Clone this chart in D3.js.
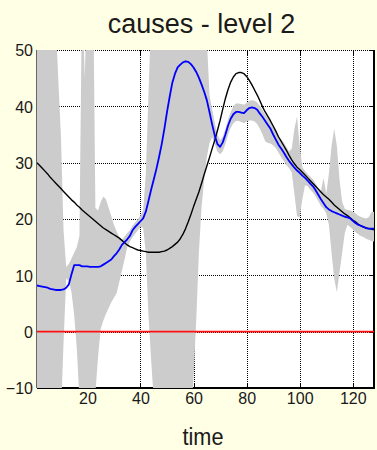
<!DOCTYPE html>
<html>
<head>
<meta charset="utf-8">
<script src="https://cdn.jsdelivr.net/npm/d3@7"></script>
<style>
  html, body { margin: 0; padding: 0; background: #FFFFE5; }
  svg { display: block; }
  text { font-family: "Liberation Sans", Arial, Helvetica, sans-serif; fill: #1a1a1a; }
</style>
</head>
<body>
<svg id="chart" width="377" height="450"></svg>
<script>
// Time index of the simulation (samples 1..128)
const timeSteps = d3.range(1, 129);

// True cause (black curve)
const causeTrue = [
  30.0, 29.5, 29.0, 28.5, 28.0, 27.4, 26.9, 26.4, 25.9, 25.4,
  24.9, 24.4, 23.9, 23.4, 23.0, 22.5, 22.1, 21.6, 21.2, 20.8,
  20.4, 20.0, 19.6, 19.2, 18.8, 18.4, 18.1, 17.8, 17.5, 17.2,
  16.9, 16.6, 16.2, 15.8, 15.4, 15.1, 14.9, 14.7, 14.5, 14.4,
  14.3, 14.2, 14.1, 14.1, 14.1, 14.1, 14.1, 14.2, 14.3, 14.5,
  14.8, 15.1, 15.5, 15.9, 16.5, 17.3, 18.3, 19.5, 20.8, 22.2,
  23.5, 24.8, 26.3, 27.9, 29.4, 30.9, 32.5, 34.0, 35.7, 37.5,
  39.5, 41.4, 43.0, 44.3, 45.2, 45.8, 46.0, 46.0, 45.8, 45.3,
  44.6, 43.8, 42.9, 42.0, 41.0, 39.9, 39.0, 38.2, 37.4, 36.5,
  35.6, 34.6, 33.8, 33.0, 32.2, 31.3, 30.5, 29.8, 29.2, 28.8,
  28.3, 27.8, 27.3, 26.8, 26.3, 25.8, 25.3, 24.8, 24.3, 23.9,
  23.5, 23.0, 22.5, 22.1, 21.7, 21.3, 20.9, 20.6, 20.2, 19.8,
  19.5, 19.1, 18.8, 18.6, 18.4, 18.3, 18.2, 18.1
];

// Estimated cause (blue curve)
const causeEstimate = [
  8.2, 8.1, 8.0, 7.9, 7.8, 7.6, 7.5, 7.4, 7.4, 7.4,
  7.5, 7.8, 8.4, 10.2, 11.8, 11.8, 11.8, 11.6, 11.6, 11.6,
  11.5, 11.5, 11.5, 11.5, 11.6, 11.9, 12.2, 12.5, 12.8, 13.4,
  13.9, 14.6, 15.4, 15.9, 16.4, 17.0, 18.0, 18.6, 19.1, 19.6,
  20.1, 21.3, 23.2, 25.2, 27.0, 28.9, 31.0, 33.3, 36.0, 39.0,
  41.7, 44.2, 45.8, 46.9, 47.4, 47.8, 48.0, 47.9, 47.5, 46.9,
  46.1, 45.1, 43.9, 42.6, 41.1, 39.0, 36.8, 34.8, 33.3, 32.8,
  33.6, 35.0, 36.6, 37.8, 38.6, 39.0, 39.0, 38.9, 38.8, 39.3,
  39.7, 39.8, 39.7, 39.4, 38.7, 38.1, 37.4, 36.7, 36.0, 35.0,
  34.1, 33.2, 32.5, 31.8, 31.0, 30.3, 29.7, 29.1, 28.6, 28.2,
  27.7, 27.3, 26.8, 26.3, 25.8, 25.1, 24.3, 23.5, 22.8, 22.1,
  21.7, 21.4, 21.2, 21.0, 20.8, 20.6, 20.4, 20.3, 20.1, 19.7,
  19.3, 19.0, 18.8, 18.6, 18.4, 18.3, 18.3, 18.3
];

// Confidence interval of the estimate (grey band)
const ciUpper = [
  60, 60, 60, 60, 60, 60, 60, 56, 45, 35,
  18, 11.5, 12, 13, 14, 15, 17, 62, 45, 62,
  65, 70, 22, 21.5, 23, 24, 23.5, 22, 20.5, 19,
  17.8, 16.8, 16.3, 16.9, 17.5, 18, 18.8, 19.4, 20, 20.6,
  21.5, 28, 42, 56, 65, 65, 65, 65, 65, 65,
  65, 65, 65, 65, 65, 65, 65, 65, 65, 65,
  65, 65, 65, 65, 52, 42, 39.5, 37, 35, 34,
  34.6, 36, 37.6, 39, 40, 40.5, 40.5, 40.4, 40.3, 40.6,
  41, 41.1, 41, 40.7, 40, 39.3, 38.6, 37.9, 37.2, 36.4,
  35.6, 34.8, 34.2, 33.6, 32.8, 32, 32.5, 36, 38.2, 33,
  29.2, 28.5, 28, 27.5, 27, 26.3, 25.5, 25, 27.3, 24.5,
  28, 33, 36, 33, 27, 23, 21.8, 21.6, 21.5, 21.3,
  21, 20.6, 20.4, 20.2, 20.1, 20.3, 21.2, 21.3
];
const ciLower = [
  -22, -22, -22, -22, -22, -22, -22, -22, -22, -15,
  -2, 9.5, 9, 7, 3, -3, -12, -25, -25, -25,
  -25, -25, -11, -4.5, 0.5, 2, 3.2, 4.2, 5.2, 6,
  6.8, 8.8, 10.8, 12.8, 15, 16, 16.8, 17.4, 18, 18.6,
  18.5, 14, 3, -5, -12, -25, -25, -25, -25, -25,
  -25, -25, -25, -25, -25, -25, -25, -25, -16, -8,
  2, 14, 22, 27, 31, 33.5, 34.5, 33.3, 32, 31.5,
  32, 33.3, 35, 36.2, 37, 37.4, 37.4, 37.2, 37, 37.3,
  37.5, 37.5, 37.3, 36.8, 36, 35, 33.8, 33.5, 33.4, 33.1,
  32.6, 31.8, 31, 30.3, 29.6, 29, 28.3, 24.5, 20.5, 20.3,
  23.5, 26, 25.8, 25.2, 24.7, 24, 23.2, 22.3, 21.8, 21,
  19, 14, 9.5, 7, 10.5, 14, 17.5, 19, 18.6, 18.2,
  17.7, 17.3, 17, 16.8, 16.5, 16.3, 16.1, 16
];

// Axis ticks and reference level
const xTicks = [20, 40, 60, 80, 100, 120];
const yTicks = [-10, 0, 10, 20, 30, 40, 50];
const zeroLevel = [0];

const titleText = "causes - level 2";
const xLabelText = "time";

// ---- layout ----
const W = 377, H = 450;
const plotLeft = 37, plotRight = 374, plotTop = 50, plotBottom = 388;

const svg = d3.select("#chart");

const x = d3.scaleLinear().domain([1, 128]).range([plotLeft, plotRight]);
const y = d3.scaleLinear().domain([-10, 50]).range([plotBottom, plotTop]);

svg.append("rect").attr("width", W).attr("height", H).attr("fill", "#FFFFE5");

svg.append("defs").append("clipPath").attr("id", "plotClip")
  .append("rect").attr("x", plotLeft).attr("y", plotTop)
  .attr("width", plotRight - plotLeft).attr("height", plotBottom - plotTop);

// plot area
svg.append("rect")
  .attr("x", plotLeft).attr("y", plotTop)
  .attr("width", plotRight - plotLeft).attr("height", plotBottom - plotTop)
  .attr("fill", "#ffffff");

// dotted grid
const gridX = svg.append("g")
  .attr("transform", `translate(0,${plotBottom})`)
  .call(d3.axisBottom(x).tickValues(xTicks).tickSize(-(plotBottom - plotTop)).tickFormat(""));
gridX.select(".domain").remove();
gridX.selectAll("line")
  .attr("stroke", "#000").attr("stroke-width", 1)
  .attr("stroke-dasharray", "1,1").attr("shape-rendering", "crispEdges");

const gridY = svg.append("g")
  .attr("transform", `translate(${plotLeft},0)`)
  .call(d3.axisLeft(y).tickValues(yTicks).tickSize(-(plotRight - plotLeft)).tickFormat(""));
gridY.select(".domain").remove();
gridY.selectAll("line")
  .attr("stroke", "#000").attr("stroke-width", 1)
  .attr("stroke-dasharray", "1,1").attr("shape-rendering", "crispEdges");

// frame: solid bottom and right edges
svg.append("line")
  .attr("x1", plotLeft).attr("x2", plotRight + 1)
  .attr("y1", plotBottom).attr("y2", plotBottom)
  .attr("stroke", "#000").attr("stroke-width", 2);
svg.append("line")
  .attr("x1", plotRight).attr("x2", plotRight)
  .attr("y1", plotTop).attr("y2", plotBottom + 1)
  .attr("stroke", "#000").attr("stroke-width", 2);

// inward tick marks on all four sides
function tickMarks(axis, transform) {
  const g = svg.append("g").attr("transform", transform).call(axis);
  g.select(".domain").remove();
  g.selectAll("text").remove();
  g.selectAll("line").attr("stroke", "#000").attr("stroke-width", 1)
    .attr("shape-rendering", "crispEdges");
}
tickMarks(d3.axisBottom(x).tickValues(xTicks).tickSize(-5), `translate(0,${plotBottom})`);
tickMarks(d3.axisTop(x).tickValues(xTicks).tickSize(-5), `translate(0,${plotTop})`);
tickMarks(d3.axisLeft(y).tickValues(yTicks).tickSize(-5), `translate(${plotLeft},0)`);
tickMarks(d3.axisRight(y).tickValues(yTicks).tickSize(-5), `translate(${plotRight},0)`);

// plotted content
const plot = svg.append("g").attr("clip-path", "url(#plotClip)");

const band = d3.area()
  .x((d, i) => x(timeSteps[i]))
  .y0((d, i) => y(ciLower[i]))
  .y1((d, i) => y(ciUpper[i]));

plot.append("path")
  .datum(timeSteps)
  .attr("d", band)
  .attr("fill", "#cccccc")
  .attr("stroke", "none");

// left edge of the axes
svg.append("line")
  .attr("x1", plotLeft - 0.5).attr("x2", plotLeft - 0.5)
  .attr("y1", plotTop).attr("y2", plotBottom)
  .attr("stroke", "#666").attr("stroke-width", 1);

// zero reference
plot.selectAll(".zero").data(zeroLevel).enter().append("line")
  .attr("class", "zero")
  .attr("x1", plotLeft).attr("x2", plotRight)
  .attr("y1", d => y(d)).attr("y2", d => y(d))
  .attr("stroke", "#ff1010").attr("stroke-width", 1.6);

const lineOf = series => d3.line()
  .x((d, i) => x(timeSteps[i]))
  .y((d, i) => y(series[i]));

plot.append("path")
  .datum(causeTrue)
  .attr("d", lineOf(causeTrue))
  .attr("fill", "none")
  .attr("stroke", "#000000")
  .attr("stroke-width", 1.4)
  .attr("stroke-linejoin", "round");

plot.append("path")
  .datum(causeEstimate)
  .attr("d", lineOf(causeEstimate))
  .attr("fill", "none")
  .attr("stroke", "#0000ff")
  .attr("stroke-width", 1.8)
  .attr("stroke-linejoin", "round");

// tick labels
const xLab = svg.append("g")
  .attr("transform", `translate(0,${plotBottom})`)
  .call(d3.axisBottom(x).tickValues(xTicks).tickSize(0).tickPadding(6));
xLab.select(".domain").remove();
xLab.selectAll("text")
  .attr("font-size", 16)
  .attr("font-family", "'Liberation Sans', Arial, sans-serif")
  .attr("fill", "#1a1a1a")
  .attr("dy", "0.71em")
  .attr("y", 5);

const yLab = svg.append("g")
  .attr("transform", `translate(${plotLeft},0)`)
  .call(d3.axisLeft(y).tickValues(yTicks).tickSize(0).tickPadding(4));
yLab.select(".domain").remove();
yLab.selectAll("text")
  .attr("font-size", 16)
  .attr("font-family", "'Liberation Sans', Arial, sans-serif")
  .attr("fill", "#1a1a1a")
  .attr("dy", "0.36em");

// title and axis label
svg.append("text")
  .attr("x", 201.5).attr("y", 33)
  .attr("text-anchor", "middle")
  .attr("font-size", 27)
  .text(titleText);

svg.append("text")
  .attr("x", 203).attr("y", 445)
  .attr("text-anchor", "middle")
  .attr("font-size", 23)
  .attr("textLength", 41)
  .attr("lengthAdjust", "spacingAndGlyphs")
  .text(xLabelText);
</script>
</body>
</html>
